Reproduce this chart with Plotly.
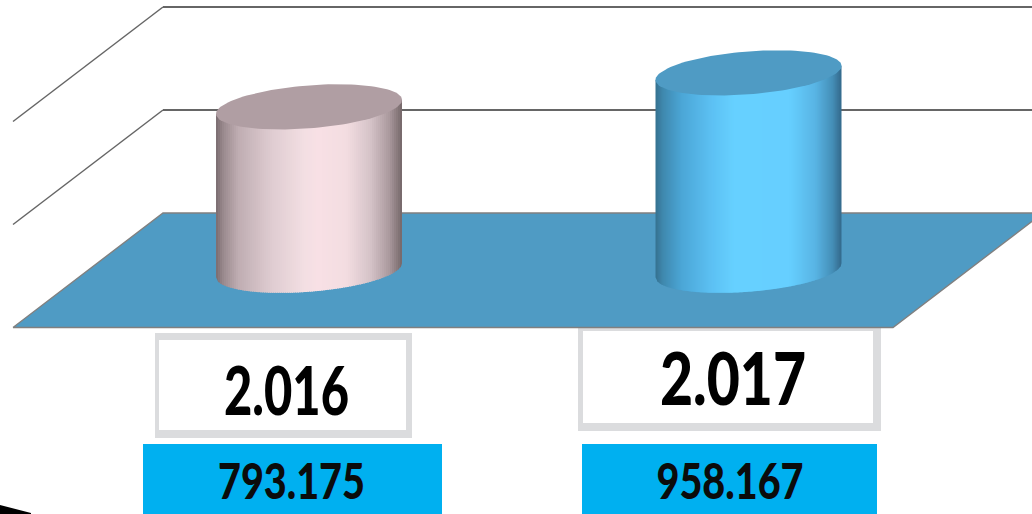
import json
import numpy as np
import plotly.graph_objects as go

# ---- data ----
years = ["2.016", "2.017"]
values = [793175, 958167]
grid_values = [0, 500000, 1000000]

# ---- page geometry (pixels) used to build the oblique projection ----
W, H = 1032, 514
K = 0.000206            # pixels per unit on the value axis
FRONT_Y = 327.5         # pixel row of the front floor edge
FRONT_L, FRONT_R = 13, 893
DEPTH_X, DEPTH_Y = 150, 114.5
CENTERS = [309, 748.5]
A, B, C = 93, 21.5, 7   # ellipse semi axes and tilt


def yv(py):
    """pixel row -> value axis position"""
    return (FRONT_Y - py) / K


def project(x, value, depth):
    """x on the floor, value, depth in 0..1 -> axis coordinates"""
    return x + depth * DEPTH_X, value + depth * DEPTH_Y / K


def lerp_color(stops, u):
    us = [s[0] for s in stops]
    rgb = [np.interp(u, us, [int(s[1][i:i + 2], 16) for s in stops]) for i in (1, 3, 5)]
    return "rgb(%d,%d,%d)" % tuple(int(round(v)) for v in rgb)


PINK = [(0, "#7a6c70"), (0.04, "#9a8a8e"), (0.12, "#bfadb2"), (0.3, "#dfccd1"),
        (0.48, "#f3dfe3"), (0.55, "#f8e0e5"), (0.7, "#f3dde1"), (0.83, "#d5c3c8"),
        (0.93, "#ab9a9e"), (1, "#756769")]
BLUE = [(0, "#35718f"), (0.04, "#3f88ae"), (0.14, "#4ba6d6"), (0.3, "#5cc0f3"),
        (0.42, "#66d0ff"), (0.72, "#66cfff"), (0.86, "#58b4e4"), (0.95, "#458fb8"),
        (1, "#33698a")]
CAP = ["#b09ea3", "#4f9bc4"]
FLOOR = "#4f9bc4"
GRID = "#666666"
EDGE = "#808080"

fig = go.Figure()


def line(xs, ys, color, width):
    fig.add_trace(go.Scatter(x=xs, y=ys, mode="lines", line=dict(color=color, width=width),
                             hoverinfo="skip", showlegend=False))


# back wall grid and side wall lines
for g in grid_values[1:]:
    xa, ya = project(FRONT_L, g, 0)
    xb, yb = project(FRONT_L, g, 1)
    line([xa, xb], [ya, yb], GRID, 1.5)
    line([xb, W + 30], [yb, yb], GRID, 2)

# floor
corners = [project(FRONT_L, 0, 0), project(FRONT_L, 0, 1), project(FRONT_R, 0, 1), project(FRONT_R, 0, 0)]
corners.append(corners[0])
fig.add_trace(go.Scatter(x=[c[0] for c in corners], y=[c[1] for c in corners], mode="lines",
                         fill="toself", fillcolor=FLOOR, line=dict(color=EDGE, width=1.4),
                         hoverinfo="skip", showlegend=False))

# cylinders: shaded vertical strips plus an elliptical cap
for cx, v, stops, cap in zip(CENTERS, values, [PINK, BLUE], CAP):
    base = 0.5 * DEPTH_Y / K
    edges = np.linspace(-A, A, 94)
    for i in range(len(edges) - 1):
        e0, e1 = edges[i], min(edges[i + 1] + 1, A)
        xs = np.linspace(e0, e1, 4)
        t = np.arccos(np.clip(xs / A, -1, 1))
        low = (-B * np.sin(t) + C * np.cos(t)) / K
        top = C * np.cos(t) / K
        px = np.r_[cx + xs, cx + xs[::-1]]
        py = np.r_[base + low, (base + v + top)[::-1]]
        u = (edges[i] + A + 1) / (2 * A)
        fig.add_trace(go.Scatter(x=px, y=py, mode="lines", fill="toself",
                                 fillcolor=lerp_color(stops, u), line=dict(width=0),
                                 hoverinfo="skip", showlegend=False))
    t = np.linspace(0, 2 * np.pi, 121)
    fig.add_trace(go.Scatter(x=cx + A * np.cos(t),
                             y=base + v + (B * np.sin(t) + C * np.cos(t)) / K,
                             mode="lines", fill="toself", fillcolor=cap, line=dict(width=0),
                             hoverinfo="skip", showlegend=False))

# labels
FONT = "Lato, Liberation Sans"
val_labels = [f"{v:,}".replace(",", ".") for v in values]
label_x = [286.5, 733]
label_y = [398, 387]
label_size = [67, 73]
val_x = [291.5, 730]
for x, py, size, text in zip(label_x, label_y, label_size, years):
    fig.add_trace(go.Scatter(x=[x], y=[yv(py)], mode="text", text=[text],
                             textposition="middle center",
                             textfont=dict(family=FONT, size=size, color="#000000", weight=900),
                             hoverinfo="skip", showlegend=False))
for x, text in zip(val_x, val_labels):
    fig.add_trace(go.Scatter(x=[x], y=[yv(486.5)], mode="text", text=[text],
                             textposition="middle center",
                             textfont=dict(family=FONT, size=49, color="#0b0b0b", weight=900),
                             hoverinfo="skip", showlegend=False))


# boxes under the plot
def rect(x0, x1, py0, py1, color):
    return dict(type="rect", xref="x", yref="y", x0=x0, x1=x1, y0=yv(py0), y1=yv(py1),
                fillcolor=color, line=dict(width=0), layer="below")


BORDER = "#dbdcde"
CYAN = "#00b0f0"
shapes = [
    rect(155, 412, 333, 438, BORDER), rect(159, 406, 340, 430, "#ffffff"),
    rect(578, 881, 326, 431, BORDER), rect(583, 873, 331, 423, "#ffffff"),
    rect(143, 442, 444, 514, CYAN), rect(582, 877, 444, 514, CYAN),
    dict(type="path", xref="x", yref="y", layer="below", fillcolor="#000000", line=dict(width=0),
         path=f"M 0 {yv(505)} L 31 {yv(513)} L 31 {yv(514)} L 0 {yv(514)} Z"),
]

fig.update_layout(
    width=W, height=H, autosize=False,
    margin=dict(l=0, r=0, t=0, b=0),
    paper_bgcolor="#ffffff", plot_bgcolor="#ffffff",
    showlegend=False, hovermode=False, shapes=shapes,
    xaxis=dict(range=[0, W], visible=False, fixedrange=True),
    yaxis=dict(range=[yv(H), yv(0)], visible=False, fixedrange=True),
)

# The reference font is a condensed one: squeeze the real text to its measured widths.
TEXT_WIDTHS = [125, 146, 147, 147]
post = """
document.body.style.margin='0';
document.documentElement.style.overflow='hidden';
window.dispatchEvent(new Event('resize'));
var ws = %s;
document.querySelectorAll('.textpoint text').forEach(function(el, i) {
  var cx = parseFloat(el.getAttribute('x'));
  var s = ws[i] / el.getComputedTextLength();
  el.setAttribute('transform', 'translate(' + cx + ',0) scale(' + s + ',1) translate(' + (-cx) + ',0)');
});
""" % json.dumps(TEXT_WIDTHS)
fig.write_html("out.html", config=dict(displayModeBar=False), post_script=post)
